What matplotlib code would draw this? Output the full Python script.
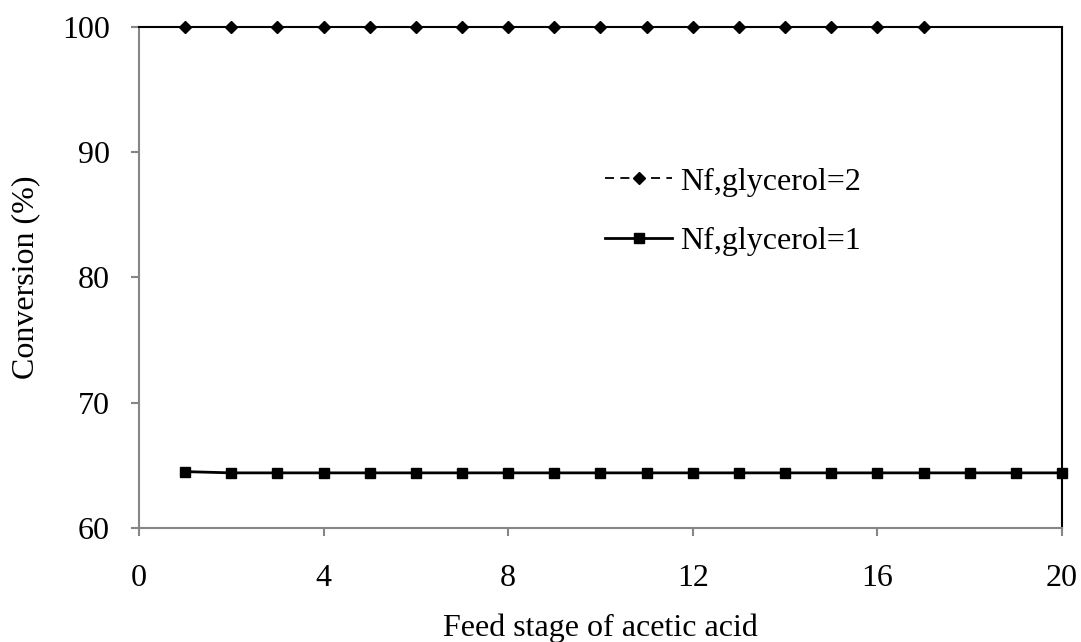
import matplotlib
matplotlib.use('Agg')
import matplotlib.pyplot as plt

stages_2 = list(range(1, 18))
conv_2 = [100.0] * 17
stages_1 = list(range(1, 21))
conv_1 = [64.5] + [64.4] * 19

xticks = [0, 4, 8, 12, 16, 20]
yticks = [60, 70, 80, 90, 100]

plt.rcParams['font.family'] = ['Liberation Serif', 'DejaVu Serif']

fig = plt.figure(figsize=(10.81, 6.42), dpi=100)
ax = fig.add_axes([0.1286, 0.1776, 0.8538, 0.7804])

ax.plot(stages_2, conv_2, color='black', linestyle=(0, (5, 3.5)), linewidth=1.3,
        marker='D', markersize=6, label='Nf,glycerol=2', clip_on=False, zorder=3)
ax.plot(stages_1, conv_1, color='black', linestyle='-', linewidth=2,
        marker='s', markersize=7, label='Nf,glycerol=1', clip_on=False, zorder=3)

ax.set_xlim(0, 20)
ax.set_ylim(60, 100)
ax.set_xticks(xticks)
ax.set_yticks(yticks)

for s in ['left', 'bottom']:
    ax.spines[s].set_color('#868686')
    ax.spines[s].set_linewidth(1.5)
for s in ['top', 'right']:
    ax.spines[s].set_color('black')
    ax.spines[s].set_linewidth(1.5)

ax.tick_params(axis='both', direction='out', length=6, width=1.5, color='#868686',
               labelsize=23)
ax.tick_params(axis='x', pad=20)
ax.tick_params(axis='y', pad=15)

ax.set_xlabel('Feed stage of acetic acid', fontsize=23, labelpad=15)
ax.set_ylabel('Conversion (%)', fontsize=23, labelpad=16)

leg = ax.legend(loc='upper left', bbox_to_anchor=(0.505, 0.72), frameon=False,
                fontsize=23, handlelength=2.1, handletextpad=0.25, labelspacing=0.95,
                borderpad=0, borderaxespad=0)

fig.savefig('out.png', dpi=100)
